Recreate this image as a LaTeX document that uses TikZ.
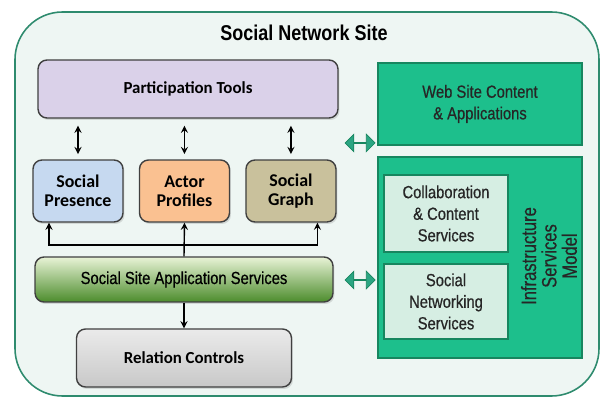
\documentclass[tikz,border=0pt]{standalone}
\usepackage{fontspec}
\setmainfont{Carlito}
\newfontfamily\narrowfont[FakeStretch=0.84]{Liberation Sans}
\newfontfamily\darkfont[FakeStretch=0.84, FakeBold=0.6]{Liberation Sans}
\newfontfamily\tallfont[FakeStretch=0.8, FakeBold=0.4]{Liberation Sans}
\usetikzlibrary{positioning, shapes.arrows, shadows}

\definecolor{sitefill}{HTML}{EEF6F3}
\definecolor{siteline}{HTML}{2E8B6E}
\definecolor{toolfill}{HTML}{DAD1E9}
\definecolor{presfill}{HTML}{C6D9F0}
\definecolor{actorfill}{HTML}{FAC191}
\definecolor{graphfill}{HTML}{C9C19C}
\definecolor{svctop}{HTML}{E8F3D6}
\definecolor{svcbottom}{HTML}{4C8C2C}
\definecolor{relfill}{HTML}{C8C8C8}
\definecolor{infrafill}{HTML}{1DBF8C}
\definecolor{infraline}{HTML}{17865F}
\definecolor{innerfill}{HTML}{D6EEE3}
\definecolor{linkfill}{HTML}{2BA582}

\tikzset{
  site/.style = {draw=siteline, line width=0.9pt, fill=sitefill, rounded corners=0.95cm},
  part/.style = {draw=black!75, thick, rounded corners=0.18cm, align=center,
                 minimum width=1.8cm, minimum height=1.24cm, inner sep=1pt,
                 font=\bfseries\fontsize{9.6}{11}\selectfont,
                 drop shadow={opacity=0.25, shadow xshift=0.03cm, shadow yshift=-0.04cm}},
  cell/.style = {part, font=\bfseries\fontsize{10.2}{11}\selectfont},
  infra/.style = {draw=infraline, thick, fill=infrafill, align=center, text=black!85,
                  minimum width=4.08cm, font=\darkfont\fontsize{10}{12.3}\selectfont},
  inner/.style = {draw=infraline, thick, fill=innerfill, align=center, text=black!85,
                  minimum width=2.48cm, font=\darkfont\fontsize{10}{12.3}\selectfont},
  link/.style = {double arrow, fill=linkfill, draw=infraline, thin, inner sep=0pt,
                 minimum height=0.6cm, minimum width=0.35cm,
                 double arrow head extend=0.1cm}
}

\begin{document}
\begin{tikzpicture} [x=0.02cm, y=-0.02cm, node distance=2.13cm, on grid]

\useasboundingbox (0,0) rectangle (601,398);
\draw [site] (15,12) rectangle (599,396);
\node (title) at (304,33) {\narrowfont\bfseries\fontsize{12.2}{14}\selectfont Social Network Site};

% left column
\node (tools) [part, fill=toolfill, minimum width=6cm, minimum height=1.16cm] at (188,89) {Participation Tools};
\node (presence) [cell, fill=presfill] at (78,191) {Social\\Presence};
\node (actor) [cell, fill=actorfill, right = of presence] {Actor\\Profiles};
\node (graph) [cell, fill=graphfill, right = of actor] {Social\\Graph};
\node (services) [part, top color=svctop, bottom color=svcbottom, minimum width=5.96cm,
                  minimum height=0.9cm, font=\darkfont\fontsize{10}{12}\selectfont]
                  at (184,279.5) {Social Site Application Services};
\node (relation) [part, top color=black!8, bottom color=relfill, minimum width=4.3cm,
                  minimum height=1.16cm, below = 1.57cm of services] {Relation Controls};

\path [stealth-stealth, thick, shorten <=3pt, shorten >=4pt]
    (presence.north) edge (presence.north |- tools.south);
\path [stealth-stealth, thick, shorten <=3pt, shorten >=4pt]
    (actor.north) edge (actor.north |- tools.south);
\path [stealth-stealth, thick, shorten <=3pt, shorten >=4pt]
    (graph.north) edge (graph.north |- tools.south);

\coordinate (fork) at (184,245);
\draw [-stealth, thick] (services.north) -- (actor.south);
\draw [-stealth, thick] (fork) -| ([xshift=-0.58cm]presence.south);
\draw [-stealth, thick] (fork) -| ([xshift=0.53cm]graph.south);
\draw [-stealth, thick] (services.south) -- (relation.north);

% right column
\node (content) [infra, minimum height=1.64cm] at (480,104) {Web Site Content\\\& Applications};
\node (infra) [infra, minimum height=4.02cm] at (480,257.5) {};
\node (collab) [inner, minimum height=1.54cm] at (446,213.5) {Collaboration\\\& Content\\Services};
\node (socnet) [inner, minimum height=1.5cm, below = 1.76cm of collab] {Social\\Networking\\Services};
\node (model) [rotate=90, align=center, text=black!85, font=\tallfont\fontsize{11.8}{11.6}\selectfont]
    at (549,256) {Infrastructure\\Services\\Model};

\node (toplink) [link] at (360,143) {};
\node (botlink) [link] at (360,280) {};

\end{tikzpicture}
\end{document}
